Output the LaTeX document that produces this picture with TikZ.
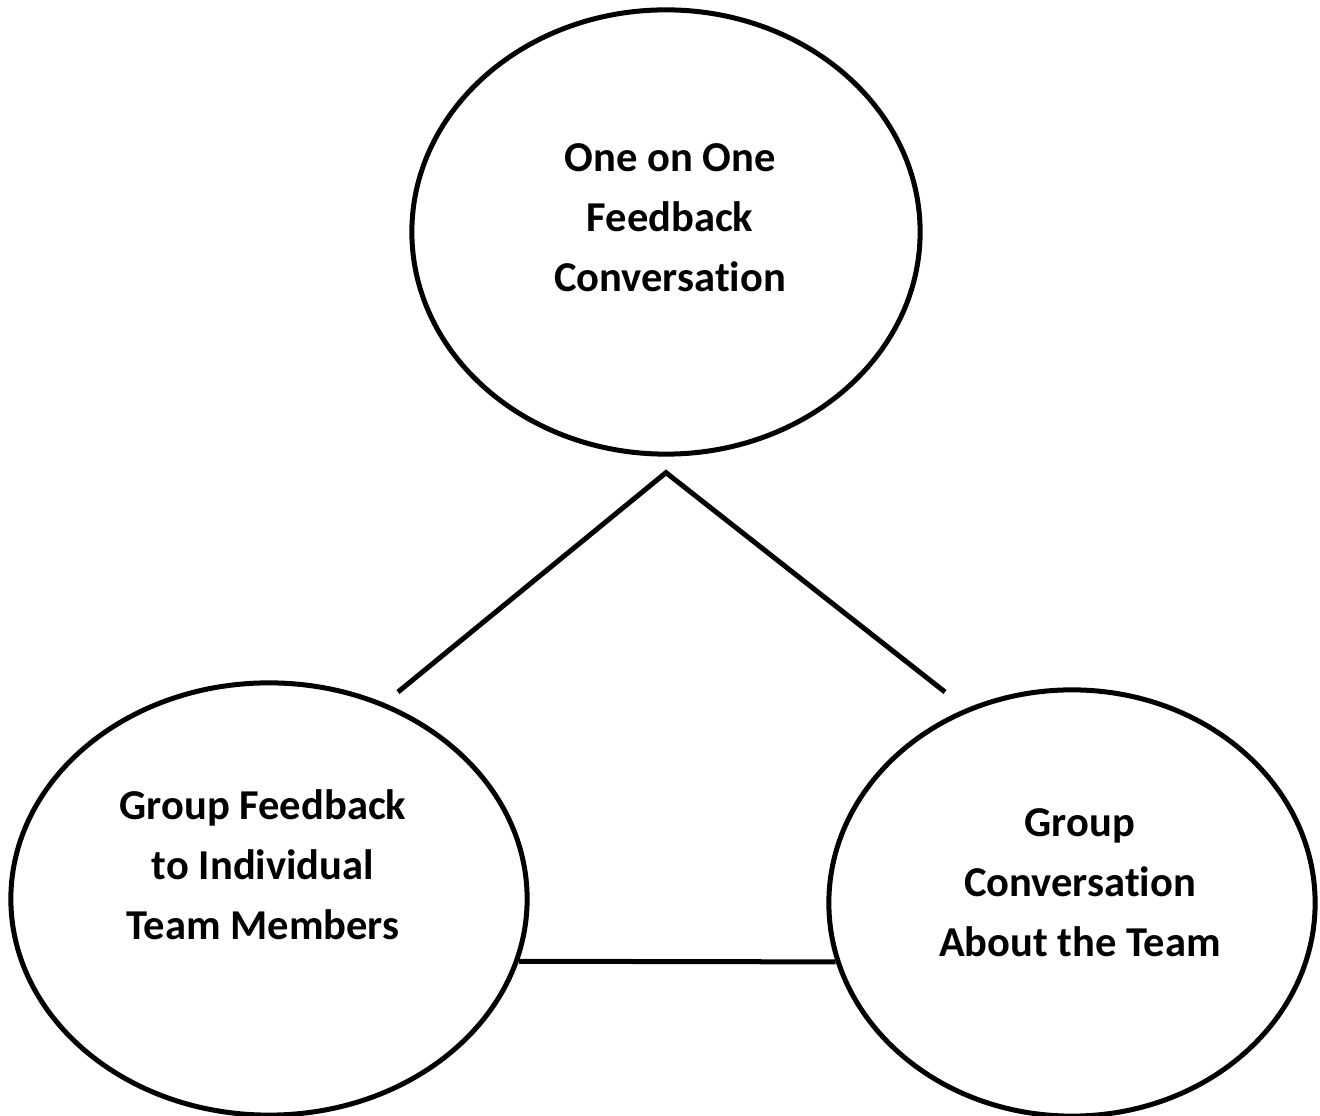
\documentclass[tikz,border=0pt]{standalone}
\usepackage{fontspec}
\setmainfont{Carlito}[Ligatures=NoCommon]
\usepackage{tikz}
\usetikzlibrary{shapes.geometric}

\begin{document}
\begin{tikzpicture}[x=0.01cm, y=-0.01cm,
    bubble/.style={ellipse, draw, line width=0.05cm, inner sep=0pt},
    caption/.style={font=\bfseries\fontsize{12.1}{17.1}\selectfont, align=center},
    link/.style={line width=0.05cm}]
  \useasboundingbox (0,0) rectangle (1320,1116);
  % the three kinds of conversation
  \node[bubble, minimum width=5.08cm, minimum height=4.44cm] (one) at (666,232) {};
  \node[bubble, minimum width=5.16cm, minimum height=4.32cm] (left) at (269,899) {};
  \node[bubble, minimum width=4.86cm, minimum height=4.26cm] (right) at (1072,903) {};
  \node[caption] (onetext) at (670,218) {One on One\\Feedback\\Conversation};
  \node[caption] (lefttext) at (263,865) {Group Feedback\\to Individual\\Team Members};
  \node[caption] (righttext) at (1080,883) {Group\\Conversation\\About the Team};
  % triangle between them
  \coordinate (apex) at ([yshift=-0.16cm]one.south);
  \coordinate (lefttip) at (398,692);
  \coordinate (righttip) at (945,692);
  \draw[link] (lefttip) -- (apex) -- (righttip);
  \draw[link] (left.-14.6) -- (right.194.5);
\end{tikzpicture}
\end{document}
